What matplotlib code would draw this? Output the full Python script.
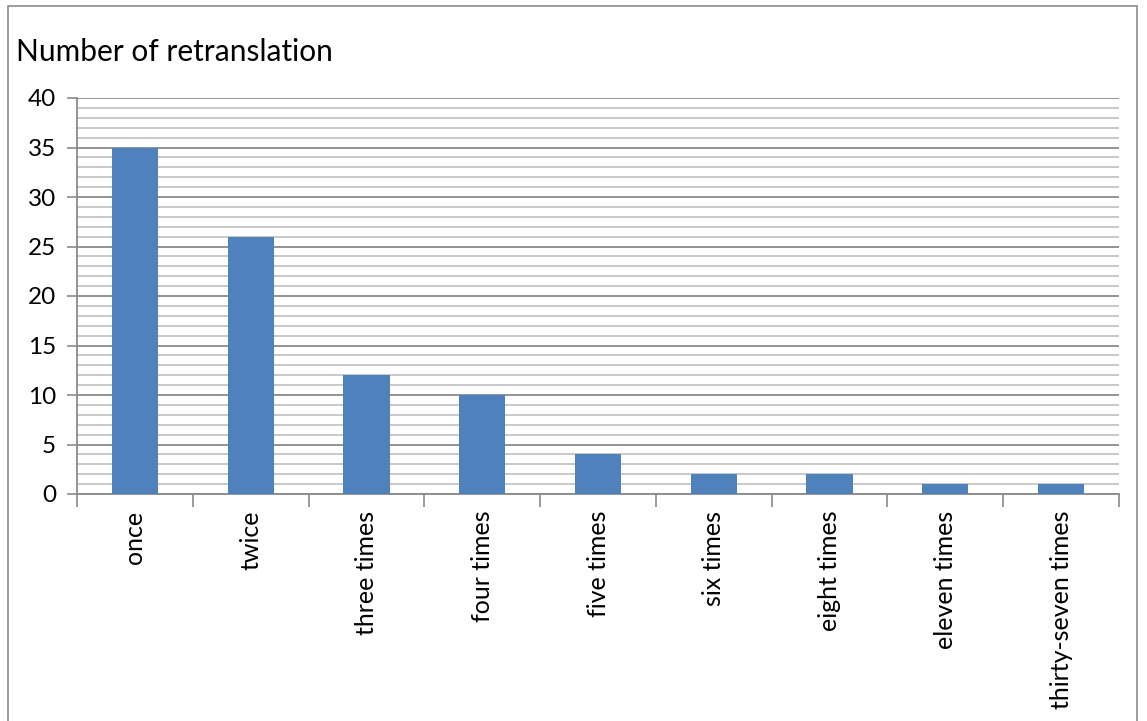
import matplotlib
matplotlib.use("Agg")
import matplotlib.pyplot as plt
from matplotlib.patches import Rectangle
from matplotlib.ticker import MultipleLocator

categories = ["once", "twice", "three times", "four times", "five times",
              "six times", "eight times", "eleven times", "thirty-seven times"]
values = [35, 26, 12, 10, 4, 2, 2, 1, 1]
title = "Number of retranslation"

plt.rcParams['font.family'] = ['Lato', 'DejaVu Sans']

W, H = 1147, 721
fig = plt.figure(figsize=(W / 100, H / 100), dpi=100)
ax = fig.add_axes([77 / W, 1 - 494 / H, (1119 - 77) / W, (494 - 98) / H])

# figure border
fig.patches.append(Rectangle((8 / W, -0.1), (1137 - 8) / W, 1.1 - 6 / H,
                             transform=fig.transFigure, fill=False,
                             edgecolor="#8c8c8c", linewidth=1.2))

x = list(range(len(categories)))
ax.bar(x, values, width=0.4, color="#4f81bd", zorder=3)

ax.set_xlim(-0.5, len(categories) - 0.5)
ax.set_ylim(0, 40)
ax.yaxis.set_major_locator(MultipleLocator(5))
ax.yaxis.set_minor_locator(MultipleLocator(1))
ax.grid(which="minor", axis="y", color="#c4c4c4", linewidth=1.3, zorder=1)
ax.grid(which="major", axis="y", color="#8a8a8a", linewidth=1.3, zorder=2)
ax.tick_params(axis="y", which="minor", length=0)
ax.tick_params(axis="y", which="major", length=7, width=1.2, color="#8a8a8a",
               labelsize=17.5, pad=8)

ax.set_xticks(x)
ax.set_xticklabels(categories, rotation=90, fontsize=18)
ax.tick_params(axis="x", which="major", length=0, pad=12)
ax.set_xticks([i - 0.5 for i in range(len(categories) + 1)], minor=True)
ax.tick_params(axis="x", which="minor", length=9, width=1.2, color="#8a8a8a")

for s in ["top", "right"]:
    ax.spines[s].set_visible(False)
for s in ["left", "bottom"]:
    ax.spines[s].set_color("#8a8a8a")
    ax.spines[s].set_linewidth(1.3)

fig.text(16 / W, 1 - 52 / H, title, fontsize=21.5, va="center", ha="left")

fig.savefig("out.png", dpi=100)
